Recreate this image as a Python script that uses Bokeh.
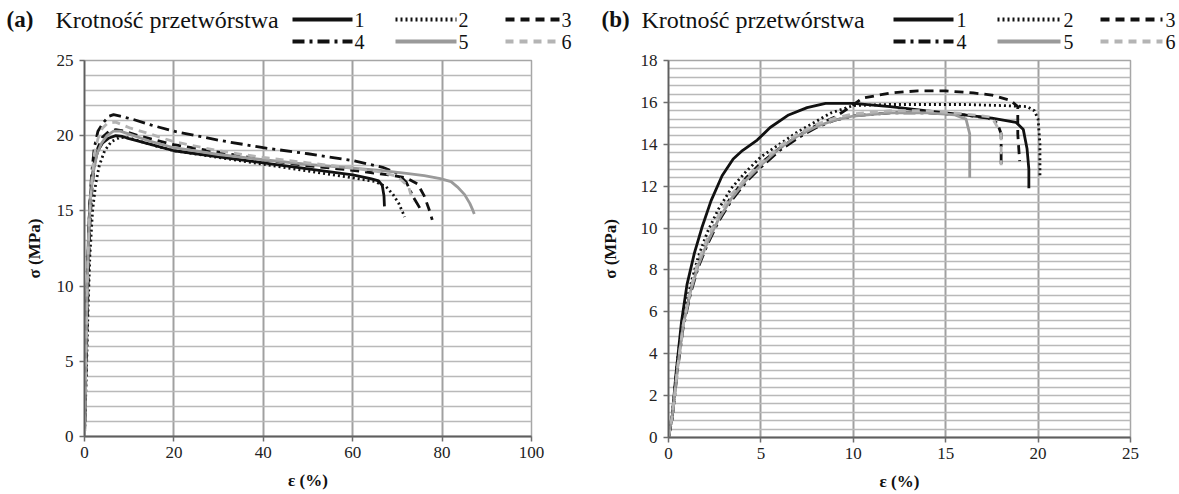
from bokeh.plotting import figure
from bokeh.layouts import row, column
from bokeh.models import Range1d, SingleIntervalTicker, FixedTicker
from bokeh.core.properties import value
from bokeh.embed import file_html
from bokeh.resources import INLINE

# ---------------- data: panel (a) ----------------
a1_x = [0, 0.3, 0.6, 0.9, 1.2, 1.6, 2.2, 3.0, 4.0, 5.5, 7.0, 8.5, 10, 15, 20, 30, 40, 50, 60, 64, 65.8, 66.6, 67.0, 67.1]
a1_y = [0, 5.0, 10.0, 13.5, 15.5, 17.0, 18.2, 19.0, 19.5, 19.85, 20.0, 19.95, 19.8, 19.4, 19.0, 18.6, 18.2, 17.8, 17.4, 17.15, 17.0, 16.7, 16.0, 15.3]

a2_x = [0, 0.4, 0.8, 1.2, 1.8, 2.5, 3.3, 4.5, 6, 8, 10, 15, 20, 30, 40, 50, 60, 65, 67.5, 69, 70.3, 71.2, 71.6]
a2_y = [0, 4, 8.5, 12, 15, 16.8, 18.0, 19.0, 19.6, 19.9, 19.85, 19.4, 19.0, 18.55, 18.1, 17.65, 17.2, 16.95, 16.6, 16.1, 15.5, 14.9, 14.6]

a3_x = [0, 0.4, 0.8, 1.2, 1.7, 2.3, 3, 4, 5.5, 7, 9, 12, 20, 30, 40, 50, 60, 68, 72, 74.5, 76, 77.2, 77.8]
a3_y = [0, 5, 10, 14, 16.6, 18.2, 19.2, 19.9, 20.3, 20.4, 20.3, 20.0, 19.4, 18.9, 18.4, 18.0, 17.7, 17.4, 17.2, 16.8, 16.0, 15.0, 14.4]

a4_x = [0, 0.3, 0.7, 1.1, 1.6, 2.2, 3.0, 4.3, 5.5, 6.5, 8, 10.7, 15, 20, 30, 40, 50, 60, 66.7, 70, 72, 73.6, 75.0]
a4_y = [0, 5, 11, 15, 17.5, 19.2, 20.3, 20.9, 21.3, 21.4, 21.3, 21.1, 20.7, 20.3, 19.7, 19.2, 18.8, 18.35, 17.9, 17.5, 16.9, 15.9, 15.2]

a5_x = [0, 0.3, 0.6, 1.0, 1.4, 2.0, 2.8, 3.8, 5, 6.5, 8, 10, 15, 20, 30, 40, 50, 60, 66.2, 72, 76, 79.6, 82, 83.4, 85, 86.2, 86.8, 87.2]
a5_y = [0, 5, 10, 14, 16, 17.6, 18.8, 19.5, 20.0, 20.3, 20.3, 20.1, 19.6, 19.2, 18.75, 18.4, 18.1, 17.85, 17.7, 17.5, 17.35, 17.15, 16.95, 16.6, 16.1, 15.5, 15.1, 14.8]

a6_x = [0, 0.3, 0.7, 1.1, 1.6, 2.2, 3.0, 4.0, 5.2, 7, 10.3, 14.8, 20, 30, 40, 50, 60, 66, 70, 72.5, 73.5]
a6_y = [0, 5, 11, 14.5, 17, 18.8, 19.8, 20.5, 20.85, 20.9, 20.5, 20.1, 19.6, 19.0, 18.55, 18.2, 17.85, 17.6, 17.3, 16.6, 15.6]

# ---------------- data: panel (b) ----------------
b1_x = [0, 0.2, 0.4, 0.7, 1.0, 1.4, 1.8, 2.3, 2.9, 3.5, 4.0, 4.8, 5.5, 6.5, 7.5, 8.5, 10, 12, 14, 16, 17.5, 18.8, 19.2, 19.4, 19.5, 19.5]
b1_y = [0, 1, 3, 5.5, 7.3, 8.8, 10, 11.3, 12.5, 13.3, 13.7, 14.2, 14.8, 15.4, 15.75, 15.95, 15.95, 15.8, 15.6, 15.4, 15.25, 15.05, 14.7, 13.8, 12.8, 11.9]

b2_x = [0, 0.2, 0.5, 0.8, 1.2, 1.6, 2.1, 2.7, 3.4, 4.2, 5, 6, 7, 8, 8.8, 10, 12, 14, 16, 18, 19.4, 19.8, 20.0, 20.1, 20.1]
b2_y = [0, 1, 3.8, 5.8, 7.3, 8.6, 9.8, 10.9, 11.9, 12.7, 13.4, 14.0, 14.6, 15.1, 15.5, 15.85, 15.9, 15.9, 15.9, 15.85, 15.8, 15.6, 15.2, 14.0, 12.4]

b3_x = [0, 0.2, 0.5, 0.8, 1.2, 1.6, 2.1, 2.7, 3.4, 4.2, 5, 6, 7, 8, 9, 9.7, 10.5, 12, 13.5, 15, 16.5, 17.5, 18.5, 18.9, 18.9, 19.0]
b3_y = [0, 1, 3.5, 5.5, 7, 8.3, 9.4, 10.5, 11.5, 12.4, 13.1, 13.8, 14.4, 14.9, 15.3, 15.7, 16.2, 16.45, 16.55, 16.55, 16.45, 16.35, 16.1, 15.8, 14.5, 13.2]

b4_x = [0, 0.2, 0.5, 0.8, 1.2, 1.6, 2.1, 2.7, 3.4, 4.2, 5, 6, 7, 8, 9, 10, 12, 14, 16, 17.3, 17.8, 18.0, 18.0, 18.0]
b4_y = [0, 0.9, 3.3, 5.3, 6.9, 8.1, 9.2, 10.3, 11.3, 12.2, 12.9, 13.7, 14.3, 14.8, 15.15, 15.35, 15.5, 15.5, 15.4, 15.25, 15.0, 14.5, 13.6, 12.9]

b5_x = [0, 0.2, 0.5, 0.8, 1.2, 1.6, 2.1, 2.7, 3.4, 4.2, 5, 6, 7, 8, 9, 10, 12, 14, 15.5, 16.1, 16.3, 16.3]
b5_y = [0, 1, 3.4, 5.4, 7, 8.2, 9.3, 10.4, 11.4, 12.3, 13.0, 13.8, 14.4, 14.85, 15.15, 15.35, 15.5, 15.5, 15.4, 15.2, 14.5, 12.4]

b6_x = [0, 0.2, 0.5, 0.8, 1.2, 1.6, 2.1, 2.7, 3.4, 4.2, 5, 6, 7, 8, 9, 10, 12, 14, 16, 17.5, 18.0, 18.0]
b6_y = [0, 1, 3.4, 5.4, 7.1, 8.4, 9.5, 10.6, 11.6, 12.4, 13.1, 13.9, 14.5, 14.95, 15.25, 15.45, 15.6, 15.6, 15.45, 15.3, 14.5, 13.0]

series_names = ["1", "2", "3", "4", "5", "6"]
header_text = "Krotność przetwórstwa"

# line styles for series 1..6
STYLES = [
    dict(line_color="#111111", line_dash="solid"),
    dict(line_color="#111111", line_dash="2 3"),
    dict(line_color="#111111", line_dash="9 6"),
    dict(line_color="#111111", line_dash="12 5 3 5"),
    dict(line_color="#9a9a9a", line_dash="solid"),
    dict(line_color="#b4b4b4", line_dash="8 6"),
]

SERIF = "Liberation Serif"
HEADER_H = 52


def make_header(width, tag, tag_x, cap_x, row1, row2, cols):
    """Strip above a panel: panel tag, caption and a 2 x 3 legend (pixel coords)."""
    h = figure(frame_width=width, frame_height=HEADER_H,
               min_border_left=0, min_border_right=0, min_border_top=0, min_border_bottom=0,
               x_range=Range1d(0, width), y_range=Range1d(HEADER_H, 0),
               x_axis_type=None, y_axis_type=None, frame_align=False,
               output_backend="svg", toolbar_location=None)
    h.grid.visible = False
    h.outline_line_color = None
    h.background_fill_color = "white"
    h.border_fill_color = "white"
    h.text(x=[tag_x], y=[row1], text=[tag], text_font=value(SERIF),
           text_font_size=value("23px"), text_font_style="bold",
           text_color="#111111", text_baseline="middle", text_align="left")
    h.text(x=[cap_x], y=[row1], text=[header_text], text_font=value(SERIF),
           text_font_size=value("24px"), text_color="#111111",
           text_baseline="middle", text_align="left")
    for i, name in enumerate(series_names):
        r, c = divmod(i, 3)
        yy = row1 if r == 0 else row2
        x0, x1, xl = cols[c]
        h.line([x0, x1], [yy, yy], line_width=3.8, **STYLES[i])
        h.text(x=[xl], y=[yy], text=[name], text_font=value(SERIF),
               text_font_size=value("20px"), text_color="#111111",
               text_baseline="middle", text_align="left")
    return h


def make_panel(width, height, left, right, top, bottom, xmax, ymax,
               xstep, ystep, ygrid_step, curves, ylab_standoff):
    fw = width - left - right
    fh = height - top - bottom
    p = figure(frame_width=fw, frame_height=fh,
               min_border_left=left, min_border_right=right,
               min_border_top=top, min_border_bottom=bottom,
               x_range=Range1d(0, xmax), y_range=Range1d(0, ymax),
               frame_align=False,
               output_backend="svg", toolbar_location=None)
    p.background_fill_color = "white"
    p.border_fill_color = "white"
    p.outline_line_color = "#a6a6a6"
    p.outline_line_width = 1.5

    p.xaxis.ticker = SingleIntervalTicker(interval=xstep)
    p.yaxis.ticker = SingleIntervalTicker(interval=ystep)
    p.xgrid.ticker = SingleIntervalTicker(interval=xstep)
    p.xgrid.grid_line_color = "#a0a0a0"
    p.xgrid.grid_line_width = 2
    n = int(round(ymax / ygrid_step))
    p.ygrid.ticker = FixedTicker(ticks=[round(i * ygrid_step, 3) for i in range(n + 1)])
    p.ygrid.grid_line_color = "#b9b9b9"
    p.ygrid.grid_line_width = 1.6

    for ax in (p.xaxis, p.yaxis):
        ax.axis_line_color = "#5e5e5e"
        ax.axis_line_width = 1.8
        ax.major_tick_line_color = "#6e6e6e"
        ax.major_tick_line_width = 1.5
        ax.major_tick_out = 5
        ax.major_tick_in = 0
        ax.minor_tick_line_color = None
        ax.major_label_text_font = SERIF
        ax.major_label_text_font_size = "17px"
        ax.major_label_text_color = "#222222"
        ax.axis_label_text_font = SERIF
        ax.axis_label_text_font_size = "17px"
        ax.axis_label_text_font_style = "bold"
        ax.axis_label_text_color = "#111111"
    p.xaxis.axis_label = "ε (%)"
    p.yaxis.axis_label = "σ (MPa)"
    p.xaxis.major_label_standoff = 5
    p.xaxis.axis_label_standoff = 10
    p.yaxis.major_label_standoff = 6
    p.yaxis.axis_label_standoff = ylab_standoff

    for (xs, ys), st in zip(curves, STYLES):
        p.line(xs, ys, line_width=2.8, line_join="round", **st)
    return p


curves_a = [(a1_x, a1_y), (a2_x, a2_y), (a3_x, a3_y), (a4_x, a4_y), (a5_x, a5_y), (a6_x, a6_y)]
curves_b = [(b1_x, b1_y), (b2_x, b2_y), (b3_x, b3_y), (b4_x, b4_y), (b5_x, b5_y), (b6_x, b6_y)]

TOP = 60 - HEADER_H
ha = make_header(590, "(a)", 6, 55, 19, 41,
                 [(292, 352, 354), (395, 456, 458), (505, 560, 561)])
pa = make_panel(590, 494 - HEADER_H, 84, 59, TOP, 58, 100, 25, 20, 5, 1.0, curves_a, 10)
hb = make_header(589, "(b)", 11, 51, 19, 41,
                 [(303, 363, 366), (407, 470, 473), (510, 572, 575)])
pb = make_panel(589, 494 - HEADER_H, 78, 49, TOP, 57, 25, 18, 5, 2, 0.4, curves_b, 18)

layout = row(column(ha, pa), column(hb, pb))
with open("out.html", "w") as f:
    f.write(file_html(layout, INLINE))
